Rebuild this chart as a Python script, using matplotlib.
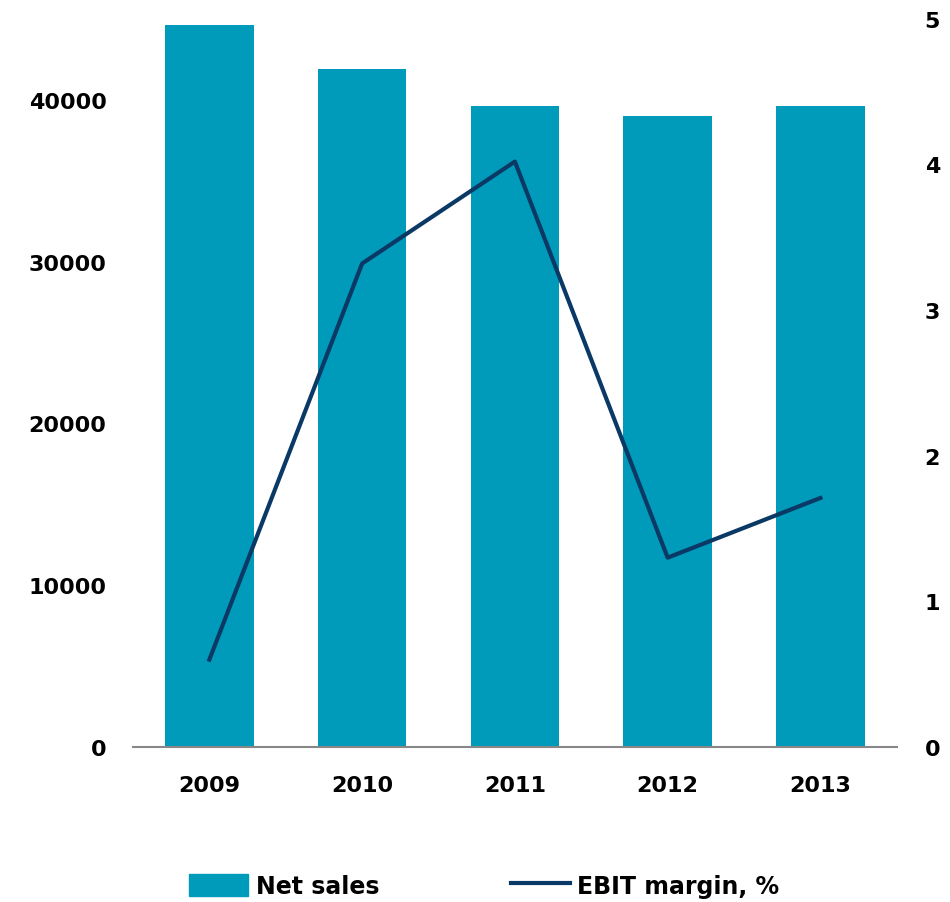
import matplotlib.pyplot as plt
from matplotlib.patches import Patch
from matplotlib.lines import Line2D

years = ['2009', '2010', '2011', '2012', '2013']
net_sales = [44600, 41900, 39600, 39000, 39600]
ebit_margin = [0.60, 3.32, 4.02, 1.30, 1.71]

bar_color = '#009ABB'
line_color = '#0B3966'

plt.rcParams['font.family'] = 'DejaVu Sans'
plt.rcParams['font.weight'] = 'bold'

fig = plt.figure(figsize=(9.5, 9.03), dpi=100)
ax = fig.add_axes([0.14, 0.1717, 0.804, 0.8063])
x = list(range(len(years)))
ax.bar(x, net_sales, width=0.58, color=bar_color, zorder=2)
ax.set_xlim(-0.5, 4.5)
ax.set_ylim(0, 45000)
ax.set_yticks([0, 10000, 20000, 30000, 40000])
ax.set_xticks(x)
ax.set_xticklabels(years)
for s in ['top', 'right', 'left']:
    ax.spines[s].set_visible(False)
ax.spines['bottom'].set_color('#888888')
ax.spines['bottom'].set_linewidth(1.5)
ax.tick_params(axis='both', length=0, labelsize=16)
ax.tick_params(axis='y', pad=19)
ax.tick_params(axis='x', pad=20)

# EBIT margin on the right axis
ax2 = ax.twinx()
ax2.plot(x, ebit_margin, color=line_color, linewidth=3, zorder=3)
ax2.set_ylim(0, 5)
ax2.set_yticks([0, 1, 2, 3, 4, 5])
for s in ['top', 'right', 'left', 'bottom']:
    ax2.spines[s].set_visible(False)
ax2.tick_params(axis='y', length=0, labelsize=16, pad=20)

handles = [Patch(color=bar_color, label='Net sales'),
           Line2D([0], [0], color=line_color, linewidth=3, label='EBIT margin, %')]
fig.legend(handles=handles, loc='lower center', bbox_to_anchor=(0.51, -0.019),
           ncol=2, frameon=False, fontsize=17, handlelength=2.5, handleheight=1.1,
           columnspacing=5.6, handletextpad=0.3)

fig.savefig('out.png', dpi=100)
